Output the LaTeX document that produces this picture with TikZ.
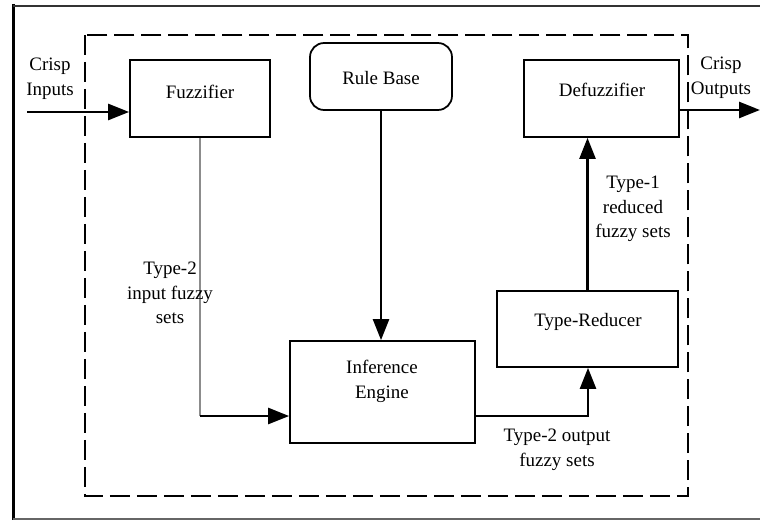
\documentclass[tikz,border=0pt]{standalone}
\usepackage{fontspec}
\setmainfont{Liberation Serif}
\usetikzlibrary{arrows.meta}

\begin{document}
\begin{tikzpicture}[
    x=0.02cm, y=-0.02cm,
    font=\fontsize{10.8}{14}\selectfont,
    box/.style={rectangle, draw=black, line width=1pt},
    txt/.style={align=center, inner sep=0pt},
    arr/.style={-{Triangle[length=0.42cm, width=0.32cm]}, line width=1.4pt},
]
\useasboundingbox (0,0) rectangle (760,520);

% Outer frame and system border
\draw[line width=1.7pt] (13.5,4) -- (13.5,520);
\draw[line width=1pt, black!80] (12.5,6) -- (760,6);
\draw[line width=0.8pt, black!60] (13,519) -- (760,519);
\draw[line width=1.1pt, dash pattern=on 0.4cm off 0.14cm] (85,35) rectangle (688,496);

% Blocks
\node[box, minimum width=2.8cm, minimum height=1.54cm] (fuz) at (200,98.5) {};
\node[txt] (fuzt) at (200,92) {Fuzzifier};
\node[box, rounded corners=8pt, minimum width=2.84cm, minimum height=1.34cm] (rule) at (381,76.5) {};
\node[txt] (rulet) at (381,78) {Rule Base};
\node[box, minimum width=3.1cm, minimum height=1.54cm] (defuz) at (601.5,98.5) {};
\node[txt] (defuzt) at (602,90) {Defuzzifier};
\node[box, minimum width=3.7cm, minimum height=2.04cm] (inf) at (382.5,392) {};
\node[txt] (inft) at (382,381.5) {Inference\\Engine};
\node[box, minimum width=3.62cm, minimum height=1.52cm] (tred) at (587.5,329) {};
\node[txt] (tredt) at (588,322) {Type-Reducer};

\coordinate (in) at (27,112);
\coordinate (out) at (760,110);
\coordinate (bend1) at (200,416);
\coordinate (bend2) at (588,416);

% Signal path
\draw[arr] (in) -- (in -| fuz.west);
\draw[line width=1.2pt, black!45] (fuz.south) -- (bend1);
\draw[arr] (bend1) -- (bend1 -| inf.west);
\draw[arr] (rule.south) -- (rule.south |- inf.north);
\draw[arr] (bend2 -| inf.east) -- (bend2) -- (bend2 |- tred.south);
\draw[arr] (tred.north) -- (tred.north |- defuz.south);
\draw[arr] (defuz.east |- out) -- (out);

% Labels
\node[txt] (cin) at (50,79) {Crisp\\Inputs};
\node[txt] (cout) at (721,78) {Crisp\\Outputs};
\node[txt] (lbin) at (170,293) {Type-2\\input fuzzy\\sets};
\node[txt] (lbred) at (633,209) {Type-1\\reduced\\fuzzy sets};
\node[txt] (lbout) at (557,450) {Type-2 output\\fuzzy sets};

\end{tikzpicture}
\end{document}
